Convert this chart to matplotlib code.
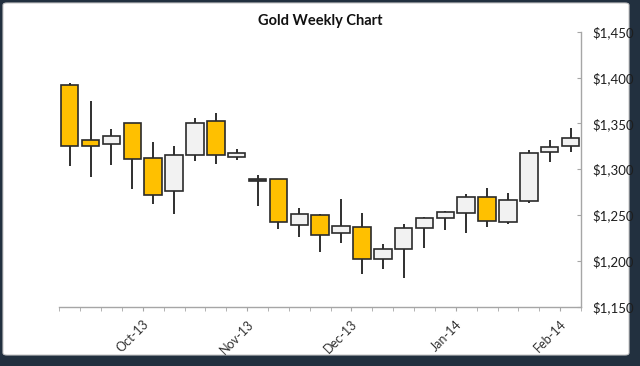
import matplotlib
matplotlib.use("Agg")
import matplotlib.pyplot as plt
from matplotlib.patches import Rectangle, FancyBboxPatch
from matplotlib.ticker import FuncFormatter

plt.rcParams['font.family'] = ['Lato', 'DejaVu Sans']

# weekly OHLC (25 weeks, Sep-13 .. Feb-14)
opens = [1391.5, 1332.2, 1327.5, 1350.1, 1311.9, 1276.6, 1315.5, 1352.9, 1313.0,
         1289.6, 1289.0, 1238.8, 1250.0, 1230.1, 1237.3, 1202.0, 1213.3, 1235.9,
         1247.1, 1251.9, 1270.0, 1242.4, 1265.6, 1318.4, 1325.3]
highs = [1393.7, 1374.7, 1344.2, 1350.1, 1329.7, 1325.3, 1355.5, 1361.7, 1322.4,
         1293.7, 1289.6, 1258.0, 1251.0, 1267.2, 1251.9, 1218.1, 1239.9, 1248.0,
         1254.7, 1273.0, 1279.2, 1274.0, 1321.0, 1331.9, 1345.0]
lows = [1303.5, 1291.2, 1304.9, 1278.1, 1261.7, 1250.8, 1309.3, 1305.7, 1310.0,
        1259.9, 1234.8, 1226.4, 1210.0, 1219.2, 1185.3, 1191.1, 1181.6, 1214.4,
        1233.7, 1230.7, 1236.6, 1239.9, 1262.8, 1307.5, 1318.4]
closes = [1325.7, 1325.7, 1336.6, 1310.8, 1271.9, 1315.5, 1350.7, 1315.5, 1318.0,
          1287.1, 1242.7, 1250.8, 1227.9, 1238.4, 1202.0, 1212.6, 1235.9, 1247.1,
          1253.6, 1269.7, 1243.8, 1266.7, 1318.0, 1323.9, 1333.7]

month_labels = ["Oct-13", "Nov-13", "Dec-13", "Jan-14", "Feb-14"]
month_week_index = [4, 9, 14, 19, 24]   # tick boundary where each month starts

UP_FILL = "#F2F2F2"
DOWN_FILL = "#FFC000"
EDGE = "#2b2b2b"

fig = plt.figure(figsize=(6.4, 3.66), dpi=100)
fig.patch.set_facecolor("#22303f")
fig.patches.append(FancyBboxPatch((3 / 640, 11 / 366), 626 / 640, 352 / 366,
                                  boxstyle="round,pad=0,rounding_size=0.006",
                                  transform=fig.transFigure, facecolor="white",
                                  edgecolor="#c8c8c8", lw=0.8, zorder=0))

ax = fig.add_axes([59.3 / 640, 59.3 / 366, 521.7 / 640, 275.0 / 366])
ax.set_zorder(2)
ax.set_facecolor("none")

width = 0.84
for i, (o, h, l, c) in enumerate(zip(opens, highs, lows, closes)):
    ax.plot([i, i], [l, h], color="#2f2f2f", lw=1.4, zorder=2, solid_capstyle="butt")
    lo, hi = min(o, c), max(o, c)
    if hi - lo < 3:
        fill = "#555555"
    elif c >= o:
        fill = UP_FILL
    else:
        fill = DOWN_FILL
    ax.add_patch(Rectangle((i - width / 2, lo), width, hi - lo, facecolor=fill,
                           edgecolor=EDGE, lw=1.2, zorder=3))

ax.set_xlim(-0.5, len(opens) - 0.5)
ax.set_ylim(1150, 1450)

for s in ["left", "top"]:
    ax.spines[s].set_visible(False)
for s in ["bottom", "right"]:
    ax.spines[s].set_color("#a6a6a6")
    ax.spines[s].set_linewidth(1.0)

ax.yaxis.tick_right()
ax.set_yticks(range(1150, 1451, 50))
ax.yaxis.set_major_formatter(FuncFormatter(lambda v, p: f"${v:,.0f}"))
ax.tick_params(axis="y", direction="in", length=3, color="#a6a6a6", pad=8.5,
               labelsize=9.5, labelcolor="#1e1e1e")

ax.set_xticks([k - 0.5 for k in range(len(opens) + 1)], minor=True)
ax.set_xticks([k - 0.5 for k in month_week_index])
ax.set_xticklabels(month_labels, rotation=45, ha="right", rotation_mode="anchor")
ax.tick_params(axis="x", which="minor", direction="out", length=3, color="#a6a6a6")
ax.tick_params(axis="x", which="major", direction="out", length=3, color="#a6a6a6",
               pad=5, labelsize=9, labelcolor="#333333")

fig.text(320 / 640, 1 - 21 / 366, "Gold Weekly Chart", ha="center", va="center",
         fontsize=10.5, fontweight="bold", color="#111111")

fig.savefig("out.png", dpi=100, facecolor=fig.get_facecolor())
